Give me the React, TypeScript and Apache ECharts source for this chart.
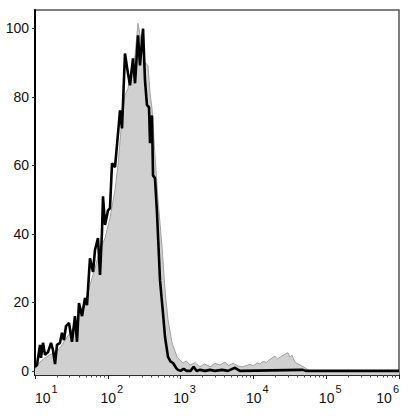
import React, { useEffect, useRef } from 'react';
import * as echarts from 'echarts';

// x values are log10 of the fluorescence intensity (1 = 10^1 ... 6 = 10^6)
const decadeTicks = [1, 2, 3, 4, 5, 6];
const countTicks = [0, 20, 40, 60, 80, 100];

// grey filled histogram (control)
const controlX = [
  1.0, 1.069, 1.137, 1.206, 1.275, 1.343, 1.412, 1.481, 1.549, 1.618, 1.687, 1.755, 1.824, 1.893, 1.962,
  2.03, 2.099, 2.14, 2.195, 2.236, 2.277, 2.319, 2.374, 2.415, 2.456, 2.511, 2.552, 2.58, 2.607, 2.648,
  2.69, 2.745, 2.786, 2.827, 2.882, 2.951, 3.033, 3.08, 3.129, 3.2, 3.266, 3.33, 3.404, 3.47, 3.541,
  3.61, 3.66, 3.72, 3.79, 3.857, 3.953, 4.0, 4.049, 4.09, 4.132, 4.18, 4.228, 4.297, 4.33, 4.365,
  4.434, 4.475, 4.5, 4.53, 4.571, 4.64, 4.709, 4.777, 6.0,
];
const controlY = [
  0.6, 2.6, 3.8, 4.7, 5.5, 6.7, 9.0, 11.1, 13.4, 17.2, 20.1, 25.1, 30.0, 35.3, 38.8,
  44.6, 52.8, 60.0, 73.8, 80.5, 82.5, 87.8, 92.1, 101.5, 96.5, 90.1, 89.2, 81.3, 76.7, 63.0,
  49.9, 36.2, 23.6, 14.9, 8.2, 4.1, 2.3, 2.9, 1.7, 2.4, 1.2, 2.0, 1.2, 2.2, 1.7,
  2.6, 1.5, 2.3, 1.4, 1.2, 1.9, 1.5, 2.3, 2.0, 2.8, 2.5, 3.4, 4.3, 3.5, 4.0,
  4.9, 5.3, 4.1, 4.6, 2.6, 1.7, 0.9, 0, 0,
];

// black line histogram (stained sample)
const sampleX = [
  1.0, 1.027, 1.069, 1.082, 1.11, 1.137, 1.179, 1.22, 1.247, 1.275, 1.302, 1.343, 1.371, 1.398, 1.426,
  1.467, 1.508, 1.549, 1.577, 1.604, 1.646, 1.687, 1.714, 1.755, 1.797, 1.824, 1.865, 1.893, 1.92, 1.934,
  1.962, 2.003, 2.03, 2.058, 2.099, 2.126, 2.168, 2.195, 2.236, 2.277, 2.305, 2.346, 2.374, 2.415, 2.442,
  2.484, 2.511, 2.538, 2.566, 2.58, 2.607, 2.621, 2.648, 2.676, 2.717, 2.758, 2.786, 2.827, 2.86, 2.896,
  2.937, 2.964, 3.0, 3.041, 3.082, 3.137, 3.179, 3.22, 3.266, 3.335, 3.404, 3.47, 3.57, 3.65, 3.747,
  3.815, 4.68, 4.72, 6.0,
];
const sampleY = [
  1.2, 1.7, 7.6, 3.8, 8.2, 4.7, 5.5, 8.2, 6.1, 2.0, 7.6, 8.2, 11.1, 9.0, 13.1,
  14.0, 8.5, 16.0, 8.5, 19.8, 16.0, 21.3, 19.2, 32.9, 28.9, 35.3, 38.8, 28.0, 40.5, 51.0,
  42.6, 46.9, 47.5, 60.6, 59.5, 65.9, 76.1, 70.8, 92.7, 86.9, 83.4, 91.3, 84.0, 98.0, 89.2,
  100.0, 84.8, 77.6, 77.0, 66.5, 74.6, 57.1, 56.3, 46.1, 26.5, 16.9, 9.9, 4.1, 2.8, 2.3,
  0.9, 0.3, 0, 0.6, 0, 0, 1.2, 0, 0.3, 0, 0.3, 0, 0.3, 0, 0.9,
  0, 0.3, 0, 0,
];

// minor ticks at 2..9 within each decade
const minorTicks: number[] = [];
for (let d = 1; d < 6; d++) {
  for (let k = 2; k <= 9; k++) minorTicks.push(d + Math.log10(k));
}

const font = 'Liberation Sans, Arial, sans-serif';

const App: React.FC = () => {
  const chartRef = useRef<HTMLDivElement>(null);

  useEffect(() => {
    document.body.style.margin = '0';
    if (!chartRef.current) return;
    const chart = echarts.init(chartRef.current, null, { renderer: 'svg' });

    chart.setOption({
      animation: false,
      grid: {
        left: 35,
        right: 9,
        top: 10,
        bottom: 41,
        show: true,
        borderColor: '#555',
        borderWidth: 1.5,
      },
      xAxis: [
        {
          type: 'value',
          min: 1,
          max: 6,
          position: 'bottom',
          splitLine: { show: false },
          axisLine: { onZero: false, lineStyle: { color: '#111', width: 1.5 } },
          axisTick: { customValues: decadeTicks, length: 4, lineStyle: { color: '#222' } },
          axisLabel: {
            customValues: decadeTicks,
            margin: 8,
            alignMinLabel: 'left',
            alignMaxLabel: 'right',
            formatter: (v: number) => (v === 1 ? `{f|10}{s|${v}}` : `{b|10}{s|${v}}`),
            rich: {
              b: { fontSize: 14, fontFamily: font, color: '#111', padding: [0, 0, 0, 8] },
              f: { fontSize: 14, fontFamily: font, color: '#111' },
              s: { fontSize: 11, fontFamily: font, color: '#111', padding: [0, 0, 19, 1] },
            },
          },
        },
        {
          type: 'value',
          min: 1,
          max: 6,
          position: 'bottom',
          splitLine: { show: false },
          axisLine: { show: false, onZero: false },
          axisLabel: { show: false },
          axisTick: { customValues: minorTicks, length: 2.5, lineStyle: { color: '#444' } },
        },
      ],
      yAxis: {
        type: 'value',
        min: -1.2,
        max: 105.4,
        splitLine: { show: false },
        axisLine: { show: true, lineStyle: { color: '#000', width: 2 } },
        axisTick: { customValues: countTicks, length: 3, lineStyle: { color: '#333' } },
        axisLabel: {
          customValues: countTicks,
          margin: 6,
          fontSize: 14,
          fontFamily: font,
          color: '#111',
        },
      },
      series: [
        {
          type: 'line',
          data: controlX.map((x, i) => [x, controlY[i]]),
          symbol: 'none',
          lineStyle: { color: '#a2a2a2', width: 1 },
          areaStyle: { color: '#d0d0d0', opacity: 1, origin: 'start' },
          z: 2,
        },
        {
          type: 'line',
          data: sampleX.map((x, i) => [x, sampleY[i]]),
          symbol: 'none',
          lineStyle: { color: '#000', width: 2.6 },
          z: 3,
        },
      ],
    });

    return () => chart.dispose();
  }, []);

  return <div ref={chartRef} style={{ width: 408, height: 416 }} />;
};

export default App;
